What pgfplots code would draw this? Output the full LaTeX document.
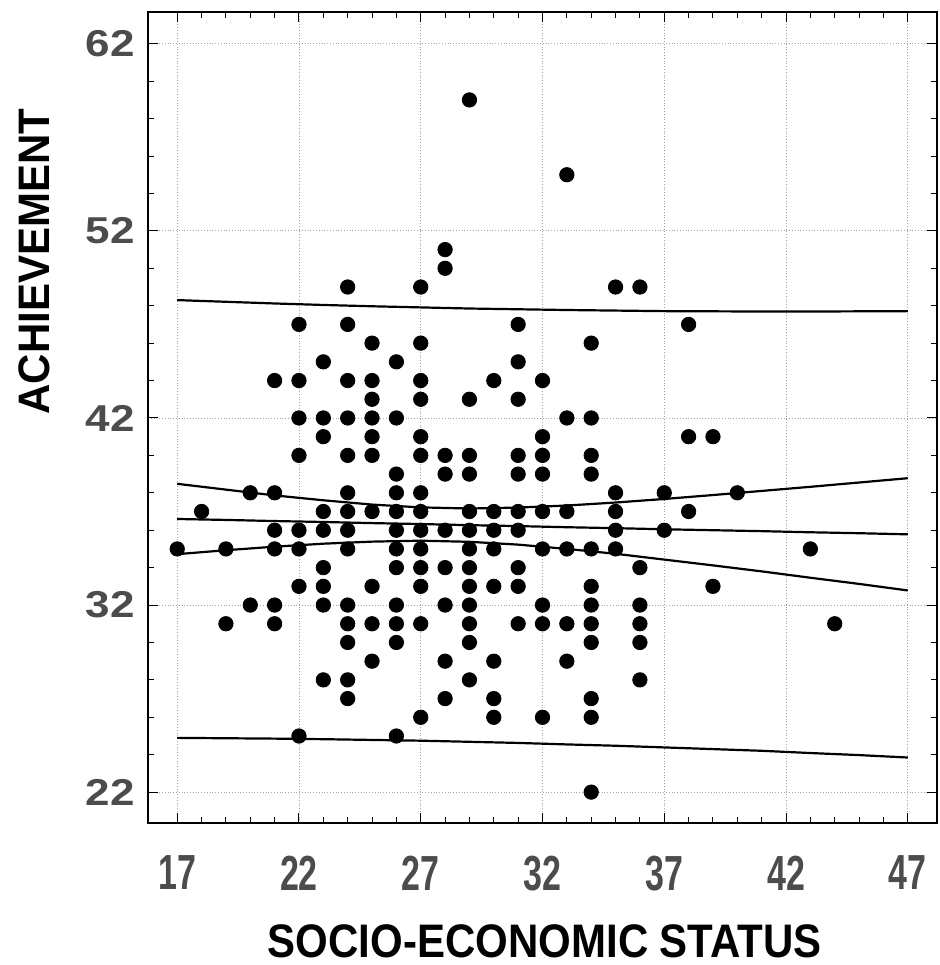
\documentclass[border=0pt]{standalone}
\usepackage{pgfplots}
\pgfplotsset{compat=1.18}
\usepackage{pgfplotstable}
\usepackage{graphicx}
\usepackage{fontspec}
\setmainfont{Liberation Sans}

\pgfplotstableread{
x y
17 35
18 37
19 35
19 31
20 38
20 32
21 44
21 38
21 36
21 35
21 32
21 31
22 47
22 44
22 42
22 40
22 36
22 35
22 33
22 25
23 45
23 42
23 41
23 37
23 36
23 34
23 33
23 32
23 28
24 49
24 47
24 44
24 42
24 40
24 38
24 37
24 36
24 35
24 32
24 31
24 30
24 28
24 27
25 46
25 44
25 43
25 42
25 41
25 40
25 37
25 33
25 31
25 29
26 45
26 42
26 39
26 38
26 37
26 36
26 35
26 34
26 32
26 31
26 30
26 25
27 49
27 46
27 44
27 43
27 41
27 40
27 38
27 37
27 36
27 35
27 34
27 33
27 31
27 26
28 51
28 50
28 40
28 39
28 36
28 34
28 32
28 29
28 27
29 59
29 43
29 40
29 39
29 37
29 36
29 35
29 34
29 33
29 32
29 31
29 30
29 28
30 44
30 37
30 36
30 35
30 33
30 29
30 27
30 26
31 47
31 45
31 43
31 40
31 39
31 37
31 36
31 34
31 33
31 31
32 44
32 41
32 40
32 39
32 37
32 35
32 32
32 31
32 26
33 55
33 42
33 37
33 35
33 31
33 29
34 46
34 42
34 40
34 39
34 35
34 33
34 32
34 31
34 30
34 27
34 26
34 22
35 49
35 38
35 37
35 36
35 35
36 49
36 34
36 32
36 31
36 30
36 28
37 38
37 36
38 47
38 41
38 37
39 41
39 33
40 38
43 35
44 31
}\pts

\pgfplotstableread{
x fit cup clo pup plo
17 36.60 38.48 34.72 48.30 24.90
19 36.55 38.17 34.93 48.21 24.88
21 36.49 37.86 35.12 48.12 24.86
23 36.44 37.60 35.28 48.04 24.83
25 36.38 37.37 35.39 47.97 24.79
27 36.33 37.22 35.44 47.91 24.75
29 36.27 37.16 35.38 47.85 24.69
31 36.22 37.21 35.23 47.81 24.63
33 36.16 37.32 35.00 47.77 24.55
35 36.11 37.48 34.74 47.74 24.48
37 36.05 37.67 34.43 47.71 24.39
39 36.00 37.88 34.12 47.70 24.30
41 35.95 38.10 33.80 47.69 24.21
43 35.89 38.32 33.46 47.69 24.09
45 35.84 38.55 33.13 47.70 23.98
47 35.78 38.78 32.78 47.71 23.85
}\lines

\begin{document}
\begin{tikzpicture}
\begin{axis}[
  scale only axis,
  width=394.5pt, height=405.5pt,
  xmin=15.8, xmax=48.2, ymin=20.35, ymax=63.7,
  xtick={17,22,...,47}, ytick={22,32,...,62},
  minor x tick num=4, minor y tick num=4,
  major tick length=5pt, minor tick length=3pt,
  tick style={black, line width=0.5pt},
  grid=major,
  grid style={black!35, densely dotted, line width=0.4pt},
  axis line style={black, line width=0.7pt},
  xticklabel style={font=\fontsize{17}{17}\selectfont\bfseries, text=black!70, yshift=-13pt},
  yticklabel style={font=\fontsize{22}{22}\selectfont\bfseries, text=black!70, xshift=-3pt},
  xticklabel={\scalebox{1}[1.45]{\pgfmathprintnumber[assume math mode=true]{\tick}}},
  yticklabel={\scalebox{1}[0.85]{\pgfmathprintnumber[assume math mode=true]{\tick}}},
  xlabel={\scalebox{1}[1.12]{SOCIO-ECONOMIC STATUS}},
  ylabel={\scalebox{1}[1.05]{ACHIEVEMENT}},
  xlabel style={font=\fontsize{21}{21}\selectfont\bfseries, at={(axis description cs:0.503,-0.1455)}, anchor=center},
  ylabel style={font=\fontsize{21}{21}\selectfont\bfseries, at={(axis description cs:-0.1445,0.692)}, anchor=center, rotate=0},
  clip=false,
]
\addplot[only marks, mark=*, mark size=3.6pt, mark options={fill=black, draw=black}] table[x=x,y=y] {\pts};
\addplot[black, line width=1.1pt] table[x=x,y=fit] {\lines};
\addplot[black, line width=1.1pt] table[x=x,y=cup] {\lines};
\addplot[black, line width=1.1pt] table[x=x,y=clo] {\lines};
\addplot[black, line width=1.1pt] table[x=x,y=pup] {\lines};
\addplot[black, line width=1.1pt] table[x=x,y=plo] {\lines};
\end{axis}
\path (current axis.south west) ++(-74pt,-71pt) coordinate (bl);
\path (current axis.north east) ++(1.5pt,6pt) coordinate (tr);
\path[use as bounding box] (bl) rectangle (tr);
\end{tikzpicture}
\end{document}
